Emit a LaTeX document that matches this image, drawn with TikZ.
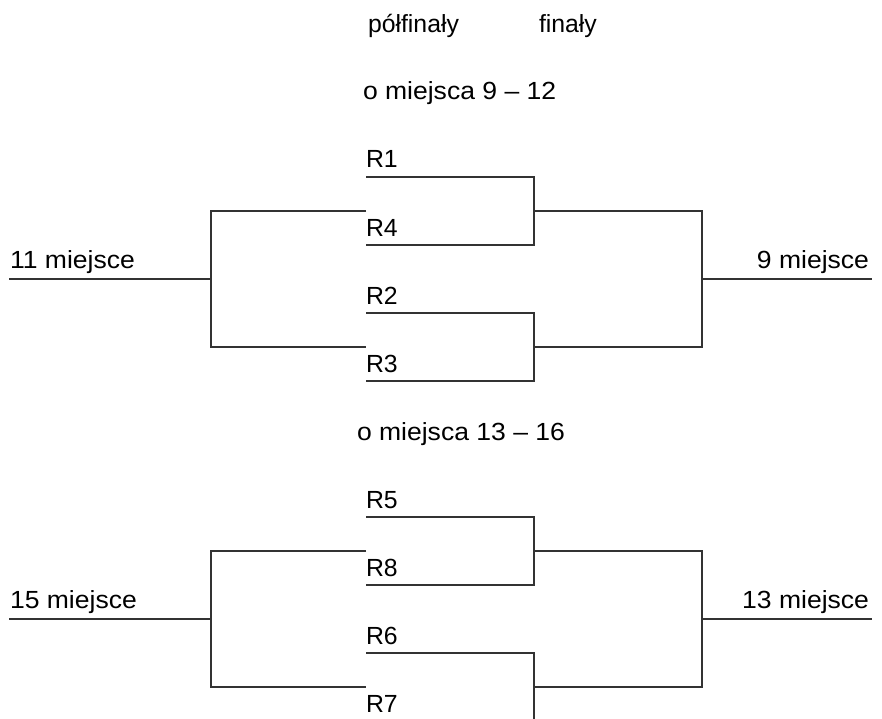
\documentclass[tikz,border=0pt]{standalone}
\usepackage{fontspec}
\setmainfont{Liberation Sans}
\begin{document}
\begin{tikzpicture}[x=1bp,y=-1bp,
  ln/.style={line width=1.1bp, draw=black!80},
  lbl/.style={inner sep=0pt, outer sep=0pt, font=\fontsize{24.8bp}{29bp}\selectfont}]
\useasboundingbox (0,0) rectangle (882,719);
\clip (0,0) rectangle (882,719);
\newcommand{\wtxt}[1]{\scalebox{1.07}[1]{#1}}
% headers
\node[lbl, anchor=base west] (hsemi) at (368,33) {półfinały};
\node[lbl, anchor=base west] (hfin) at (539,33) {finały};
\node[lbl, anchor=base west] (hgrpA) at (363,100) {\wtxt{o miejsca 9 – 12}};
\node[lbl, anchor=base west] (hgrpB) at (357,440) {\wtxt{o miejsca 13 – 16}};
% brackets
\foreach \b/\o/\ra/\rb/\rc/\rd/\lp/\rp in {A/0/R1/R4/R2/R3/11/9, B/340/R5/R8/R6/R7/15/13} {
  \coordinate (a1\b) at (366,177+\o); \coordinate (a2\b) at (534,177+\o);
  \coordinate (b1\b) at (366,245+\o); \coordinate (b2\b) at (534,245+\o);
  \coordinate (c1\b) at (366,313+\o); \coordinate (c2\b) at (534,313+\o);
  \coordinate (d1\b) at (366,381+\o); \coordinate (d2\b) at (534,381+\o);
  \coordinate (m1\b) at (534,211+\o); \coordinate (m2\b) at (534,347+\o);
  \coordinate (n1\b) at (702,211+\o); \coordinate (n2\b) at (702,347+\o);
  \coordinate (f1\b) at (702,279+\o); \coordinate (f2\b) at (872,279+\o);
  \coordinate (l1\b) at (9,279+\o);  \coordinate (l2\b) at (211,279+\o);
  \coordinate (k1\b) at (211,211+\o); \coordinate (k2\b) at (211,347+\o);
  \coordinate (j1\b) at (366,211+\o); \coordinate (j2\b) at (366,347+\o);
  \draw[ln] (a1\b) -- (a2\b) -- (b2\b) -- (b1\b);
  \draw[ln] (c1\b) -- (c2\b) -- (d2\b) -- (d1\b);
  \draw[ln] (m1\b) -- (n1\b) -- (n2\b) -- (m2\b);
  \draw[ln] (f1\b) -- (f2\b);
  \draw[ln] (l1\b) -- (l2\b);
  \draw[ln] (j1\b) -- (k1\b) -- (k2\b) -- (j2\b);
  \node[lbl, anchor=base west] (la\b) at (366,168+\o) {\ra};
  \node[lbl, anchor=base west] (lb\b) at (366,236+\o) {\rb};
  \node[lbl, anchor=base west] (lc\b) at (366,304+\o) {\rc};
  \node[lbl, anchor=base west] (ld\b) at (366,372+\o) {\rd};
  \node[lbl, anchor=base west] (lp\b) at (10,268+\o) {\wtxt{\lp{} miejsce}};
  \node[lbl, anchor=base east] (rp\b) at (869,268+\o) {\wtxt{\rp{} miejsce}};
}
\end{tikzpicture}
\end{document}
